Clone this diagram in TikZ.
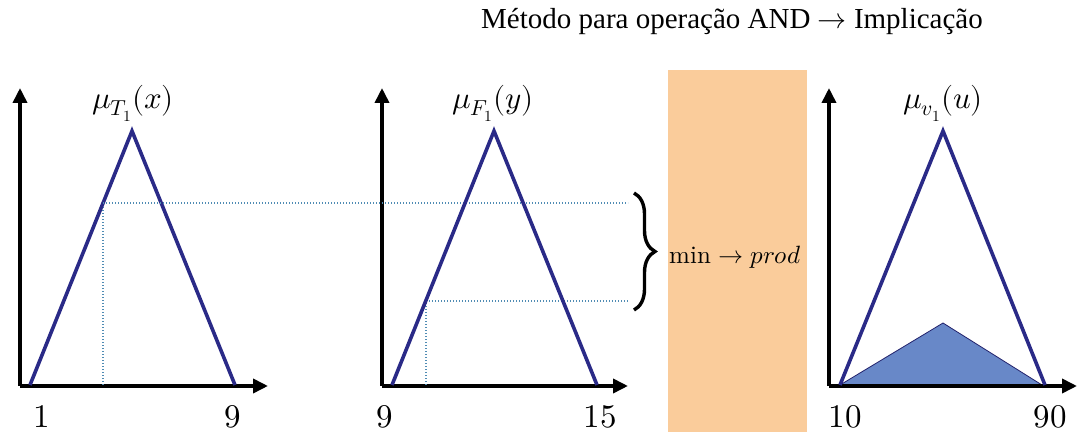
\documentclass[tikz,border=0pt]{standalone}
\usepackage{fontspec}
\setmainfont{Liberation Serif}
\usepackage{unicode-math}
\setmathfont{Latin Modern Math}
\usetikzlibrary{arrows.meta,decorations.pathreplacing}
\definecolor{navy}{RGB}{42,42,135}
\definecolor{dotc}{RGB}{80,140,180}
\definecolor{fillc}{RGB}{104,136,200}
\definecolor{peach}{RGB}{250,204,155}
\tikzset{
  axis/.style={line width=3.6pt,-{Triangle[length=15pt,width=14pt]}},
  tri/.style={draw=navy,line width=3.6pt,line join=miter},
  guide/.style={draw=dotc,line width=1.3pt,dash pattern=on 1.3pt off 1.7pt},
  num/.style={font=\fontsize{33}{36}\selectfont,inner sep=0pt},
  mlab/.style={font=\fontsize{31}{34}\selectfont,inner sep=0pt},
}
\begin{document}
\begin{tikzpicture}[x=1pt,y=1pt]
\useasboundingbox (0,0) rectangle (1080,434);
% orange box
\node[fill=peach,draw=none,minimum width=139pt,minimum height=362pt,inner sep=0pt,anchor=south west] (box) at (668,2) {};
\node[font=\fontsize{25}{28}\selectfont,inner sep=0pt] (op) at (735,177) {$\symup{min}\rightarrow prod$};
% title
\node[font=\fontsize{29}{31}\selectfont,inner sep=0pt] (title) at (732,412) {Método para operação AND $\rightarrow$ Implicação};

% panel 1
\coordinate (o1) at (20,48);
\coordinate (y1) at (20,346);
\coordinate (x1) at (268,48);
\draw[axis] (o1) -- (y1);
\draw[axis] (o1) -- (x1);
\coordinate (a1) at (30,49);
\coordinate (p1) at (132,303);
\coordinate (b1) at (235,49);
\coordinate (c1) at (103,231);
\coordinate (c1b) at (103,49);
\draw[guide] (c1b) -- (c1);
\draw[tri] (a1) -- (p1) -- (b1);
\node[mlab] (l1) at (133,331) {$\mu_{T_1}(x)$};
\node[num] (n1a) at (42,17.5) {$1$};
\node[num] (n1b) at (233,17.5) {$9$};

% panel 2
\coordinate (o2) at (382,48);
\coordinate (y2) at (382,346);
\coordinate (x2) at (628,48);
\draw[axis] (o2) -- (y2);
\draw[axis] (o2) -- (x2);
\coordinate (a2) at (392,49);
\coordinate (p2) at (494,303);
\coordinate (b2) at (597,49);
\coordinate (c2) at (426,133);
\coordinate (c2b) at (426,49);
\coordinate (e1) at (628,231);
\coordinate (e2) at (628,133);
\draw[guide] (c1) -- (e1);
\draw[guide] (c2) -- (e2);
\draw[guide] (c2b) -- (c2);
\draw[tri] (a2) -- (p2) -- (b2);
\node[mlab] (l2) at (493,331) {$\mu_{F_1}(y)$};
\node[num] (n2a) at (385,17.5) {$9$};
\node[num] (n2b) at (600,17.5) {$15$};

% brace
\coordinate (br1) at (634,241);
\coordinate (br2) at (634,124);
\draw[line width=3.4pt,decorate,decoration={brace,amplitude=21pt}] (br1) -- (br2);

% panel 3
\coordinate (o3) at (829,48);
\coordinate (y3) at (829,346);
\coordinate (x3) at (1077,48);
\coordinate (a3) at (840,49);
\coordinate (p3) at (943,303);
\coordinate (b3) at (1045,49);
\coordinate (q3) at (943,111);
\coordinate (r3) at (1042,49);
\fill[fillc,draw=navy!80!black,line width=0.8pt] (a3) -- (q3) -- (r3) -- cycle;
\draw[axis] (o3) -- (y3);
\draw[axis] (o3) -- (x3);
\draw[tri] (a3) -- (p3) -- (b3);
\node[mlab] (l3) at (943,331) {$\mu_{v_1}(u)$};
\node[num] (n3a) at (845,17.5) {$10$};
\node[num] (n3b) at (1050,17.5) {$90$};
\end{tikzpicture}
\end{document}
